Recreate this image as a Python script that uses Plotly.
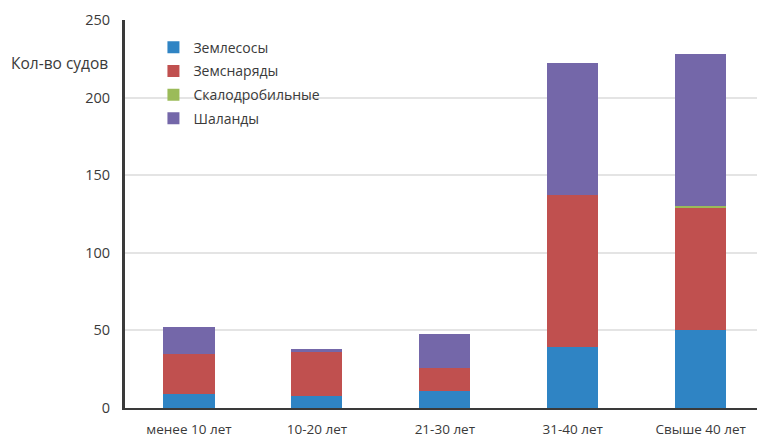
import plotly.graph_objects as go

categories = ["менее 10 лет", "10-20 лет", "21-30 лет", "31-40 лет", "Свыше 40 лет"]
zemlesosy = [9, 8, 11, 39, 50]
zemsnaryady = [26, 28, 15, 98, 79]
skalodrobilnye = [0, 0, 0, 0, 1]
shalandy = [17, 2, 22, 85, 98]

series = [
    ("Землесосы", zemlesosy, "#2f84c4"),
    ("Земснаряды", zemsnaryady, "#c0504f"),
    ("Скалодробильные", skalodrobilnye, "#9bbb59"),
    ("Шаланды", shalandy, "#7467a9"),
]

font_family = "'Open Sans', Lato, sans-serif"
text_color = "#3a3a3a"

fig = go.Figure()
for i, (name, vals, color) in enumerate(series):
    fig.add_trace(go.Bar(
        name=name, x=categories, y=vals,
        marker=dict(color=color, line=dict(width=0)),
        legendgroup=f"g{i}",
    ))

fig.update_layout(
    width=757, height=439,
    barmode="stack",
    bargap=0.6,
    plot_bgcolor="white",
    paper_bgcolor="white",
    margin=dict(l=125, r=0, t=20, b=31),
    font=dict(family=font_family, size=14, color=text_color),
    legend=dict(
        x=0.045, y=0.97, xanchor="left", yanchor="top",
        traceorder="grouped", tracegroupgap=2.5,
        font=dict(size=14, color=text_color),
        itemwidth=30, bgcolor="rgba(0,0,0,0)",
    ),
    xaxis=dict(
        range=[-0.5, 4.44],
        automargin=False,
        showline=True, linecolor="#3a3a3a", linewidth=2,
        ticks="", ticklabelstandoff=8,
        tickfont=dict(size=13.5, color=text_color),
        showgrid=False,
    ),
    yaxis=dict(
        range=[0, 250], dtick=50,
        automargin=False,
        showline=True, linecolor="#3a3a3a", linewidth=3,
        showgrid=True, gridcolor="#e4e4e4", gridwidth=1.5,
        ticks="", ticklabelstandoff=9,
        tickfont=dict(size=14.5, color=text_color),
        zeroline=False,
    ),
    annotations=[dict(
        text="Кол-во судов", xref="paper", yref="paper",
        x=-0.024, y=0.89, xanchor="right", yanchor="middle",
        showarrow=False, font=dict(size=15.5, color=text_color),
    )],
)

fig.write_html("out.html")
